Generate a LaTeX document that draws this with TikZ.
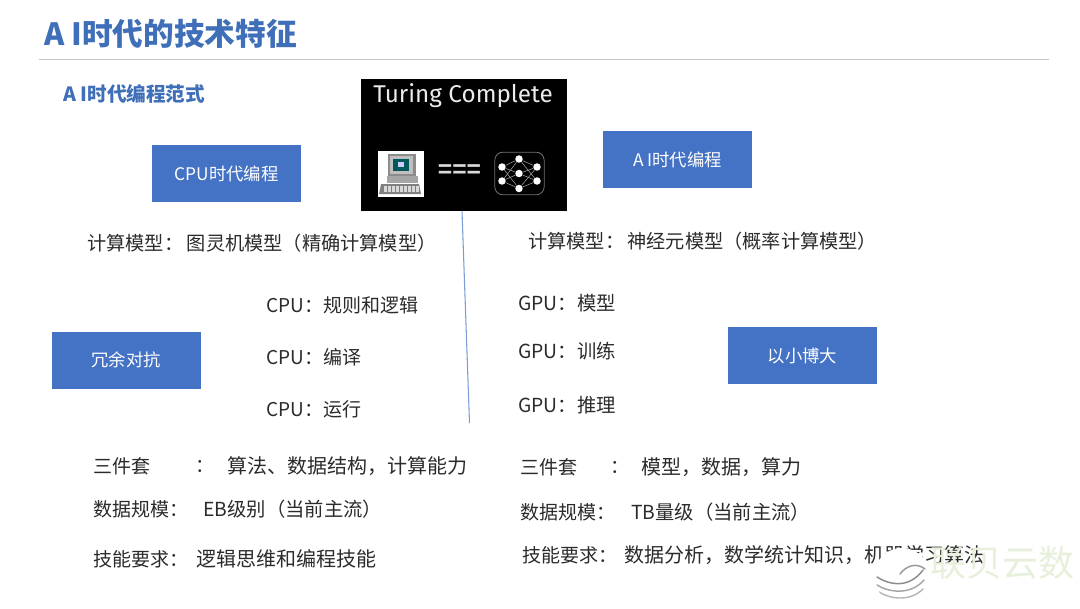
\documentclass[tikz,border=0pt]{standalone}
\usepackage{fontspec}
\setmainfont{Noto Sans CJK SC}
\newfontfamily\turingfont{Fira Sans}
\newfontfamily\eqfont{Liberation Sans}
\definecolor{blu}{HTML}{4472C4}
\definecolor{ttl}{HTML}{3F6FB8}
\definecolor{txt}{HTML}{2B2B2B}
\definecolor{wmk}{HTML}{E6F0DA}
\tikzset{
 px/.style={x=0.75pt,y=-0.75pt},
 lab/.style={anchor=west,inner sep=0pt,text=txt,font=\fontsize{14.25pt}{17pt}\selectfont},
 labm/.style={lab,font=\fontsize{14.5pt}{17pt}\selectfont},
 labw/.style={lab,font=\fontsize{15pt}{18pt}\selectfont},
 bx/.style={fill=blu,text=white,minimum width=111.75pt,minimum height=42.75pt,inner sep=0pt,font=\fontsize{13pt}{16pt}\selectfont},
 nn/.style={circle,fill=white,inner sep=0pt,minimum size=5.6pt},
 nl/.style={draw=white!70!black,line width=0.35pt},
 wv/.style={line width=1.1pt,line cap=round}
}
\begin{document}
\begin{tikzpicture}[px]
\useasboundingbox (0,0) rectangle (1080,608);
\fill[white] (0,0) rectangle (1080,608);
\node[anchor=west,inner sep=0pt,text=ttl,font=\fontsize{23pt}{26pt}\selectfont\bfseries] (title) at (44,34) {A I时代的技术特征};
\coordinate (ruleL) at (39,59.5); \coordinate (ruleR) at (1049,59.5);
\draw[black!22,line width=0.8pt] (ruleL) -- (ruleR);
\node[anchor=west,inner sep=0pt,text=ttl,font=\fontsize{14.7pt}{17pt}\selectfont\bfseries] (sub) at (63,93.5) {A I时代编程范式};
% Turing box
\node[fill=black,minimum width=154.5pt,minimum height=99pt,inner sep=0pt] (tc) at (464,145) {};
\node[anchor=west,inner sep=0pt,text=white!92!black,font=\fontsize{18.2pt}{20pt}\selectfont\turingfont] (tct) at (373,96) {Turing Complete};
\node[fill=white,minimum width=34.5pt,minimum height=34.5pt,inner sep=0pt] (pc) at (400.5,174) {};
\fill[black!45] (388,154) -- (416,154) -- (416,176) -- (388,176) -- cycle;
\fill[black!25] (390,156) rectangle (413,174);
\fill[teal!70!black] (393,159) rectangle (409,171);
\fill[white!80!blue] (398,162) rectangle (404,167);
\fill[black!35] (387,176) rectangle (418,183);
\fill[black!50] (381,184) -- (419,184) -- (421,194) -- (379,194) -- cycle;
\foreach \k in {0,1,2,3,4,5,6,7,8}{\fill[black!15] (384+\k*4,186) rectangle (386.5+\k*4,192);}
\node[anchor=center,inner sep=0pt,text=white!85!black,font=\fontsize{18.5pt}{20pt}\selectfont\eqfont\bfseries] (eq) at (459.5,171.5) {===};
\node[draw=black!55!white,rounded corners=6pt,line width=0.6pt,minimum width=37pt,minimum height=32pt,inner sep=0pt] (nnb) at (519.5,173.5) {};
\node[nn] (a1) at (502,167) {};\node[nn] (a2) at (502,181) {};
\node[nn] (b1) at (519,159) {};\node[nn] (b2) at (519,173.5) {};\node[nn] (b3) at (519,188.5) {};
\node[nn] (c1) at (537,167) {};\node[nn] (c2) at (537,181) {};
\foreach \p in {a1,a2,c1,c2}\foreach \q in {b1,b2,b3}{\draw[nl] (\p) -- (\q);}
% boxes
\node[bx] (cpu) at (226.5,173.5) {CPU时代编程};
\node[bx] (ai)  at (677.5,159.5) {A I时代编程};
\node[bx] (red) at (126,360) {冗余对抗};
\node[bx] (sm)  at (802.5,355.5) {以小博大};
% divider
\coordinate (dE) at (469.5,423);
\draw[blu!70!white,line width=0.8pt] (tc.south -| 462,0) -- (dE);
% text
\node[lab,font=\fontsize{14.4pt}{17pt}\selectfont] (l1) at (87,243.5) {计算模型：\hspace{2.8pt}图灵机模型（精确计算模型）};
\node[lab,font=\fontsize{14.4pt}{17pt}\selectfont] (r1) at (528,241.5) {计算模型：\hspace{2.5pt}神经元模型（概率计算模型）};
\node[lab] (l2) at (266,305) {CPU：规则和逻辑};
\node[lab] (l3) at (266,357) {CPU：编译};
\node[lab] (l4) at (266,409) {CPU：运行};
\node[labm] (r2) at (518,303) {GPU：模型};
\node[labm] (r3) at (518,351) {GPU：训练};
\node[labm] (r4) at (518,405) {GPU：推理};
\node[lab] (l5) at (93,466) {三件套};
\node[lab] (l5b) at (195,466) {：};
\node[labw] (l5c) at (227,466) {算法、数据结构，计算能力};
\node[lab] (l6) at (93,509.5) {数据规模：};
\node[labm] (l6b) at (203,509.5) {EB级别（当前主流）};
\node[lab] (l7) at (93,559) {技能要求：};
\node[labw] (l7b) at (196,559) {逻辑思维和编程技能};
\node[lab] (r5) at (520,467) {三件套};
\node[lab] (r5b) at (610,467) {：};
\node[labw] (r5c) at (641,467) {模型，数据，算力};
\node[lab] (r6) at (520,512.5) {数据规模：};
\node[labm] (r6b) at (631,512.5) {TB量级（当前主流）};
\node[lab] (r7) at (522,555) {技能要求：};
\node[labw] (r7b) at (624,555) {数据分析，数学统计知识，机器学习算法};
% watermark
\fill[white] (902,576) circle [radius=28];
\node[anchor=west,inner sep=0pt,text=wmk,font=\fontsize{27pt}{30pt}\selectfont] (wm) at (930,563) {联贝云数};
\begin{scope}
\clip (902,576) circle [radius=28];
\draw[wv,black!45] (877,577) .. controls (888,584) and (908,590) .. (923,570);
\draw[wv,black!35] (877,585) .. controls (888,592) and (910,596) .. (924,580);
\draw[wv,black!28] (879,592) .. controls (890,599) and (910,602) .. (923,589);
\draw[wv,black!40] (900,574) .. controls (906,566) and (916,562) .. (925,569);
\end{scope}
\end{tikzpicture}
\end{document}
